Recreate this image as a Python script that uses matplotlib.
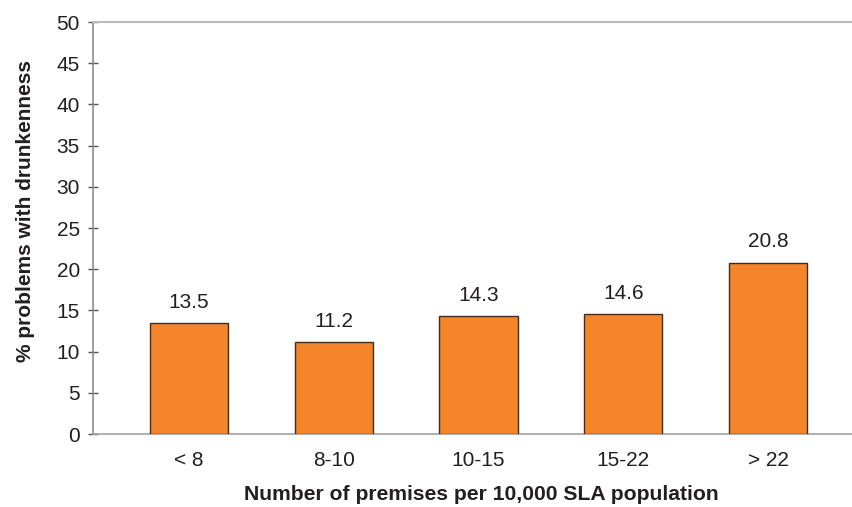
import matplotlib.pyplot as plt

categories = ['< 8', '8-10', '10-15', '15-22', '> 22']
values = [13.5, 11.2, 14.3, 14.6, 20.8]
yticks = [0, 5, 10, 15, 20, 25, 30, 35, 40, 45, 50]

plt.rcParams['font.family'] = ['Liberation Sans', 'DejaVu Sans']
txt = '#231f20'

fig = plt.figure(figsize=(8.52, 5.07), dpi=100)
ax = fig.add_axes([93/852, 1-434/507, 1-93/852, (434-22)/507])

x = range(len(categories))
bars = ax.bar(x, values, width=0.54, color='#f5852a', edgecolor='#3b2e25', linewidth=1.0, zorder=3)
for xi, v in zip(x, values):
    ax.annotate('%.1f' % v, (xi, v), xytext=(0, 8), textcoords='offset points',
                ha='center', va='bottom', fontsize=15, color=txt)

ax.set_xlim(-0.663, 4.58)
ax.set_ylim(0, 50)
ax.set_yticks(yticks)
ax.set_xticks(list(x))
ax.set_xticklabels(categories)
ax.tick_params(axis='y', direction='inout', length=7, width=1, color='#555555', labelsize=15, labelcolor=txt, pad=6)
ax.tick_params(axis='x', length=0, labelsize=15, labelcolor=txt, pad=12)

ax.spines['right'].set_visible(False)
ax.spines['top'].set_color('#b9bbbe')
ax.spines['top'].set_linewidth(1.5)
ax.spines['left'].set_color('#8a8c8e')
ax.spines['bottom'].set_color('#a0a2a4')
ax.spines['left'].set_linewidth(1.2)
ax.spines['bottom'].set_linewidth(1.2)

ax.set_xlabel('Number of premises per 10,000 SLA population', fontsize=15.2, fontweight='bold', color=txt)
ax.xaxis.set_label_coords(0.512, -0.125)
ax.set_ylabel('% problems with drunkenness', fontsize=15, fontweight='bold', color=txt)
ax.yaxis.set_label_coords(-0.076, 0.541)

fig.savefig('out.png', dpi=100)
